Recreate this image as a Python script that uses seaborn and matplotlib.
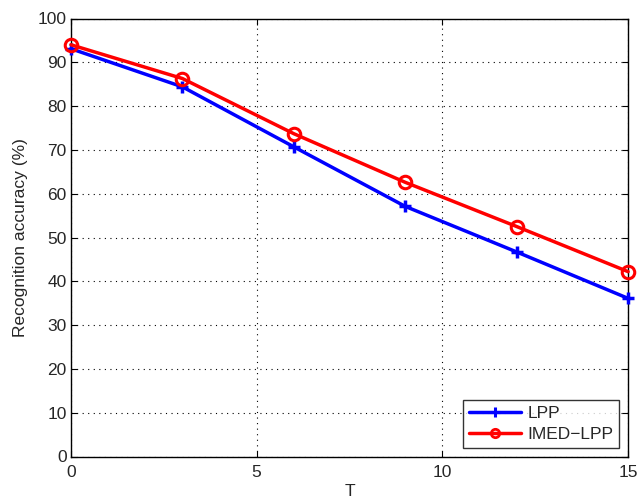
import matplotlib
matplotlib.use("Agg")
import matplotlib.pyplot as plt
from matplotlib.lines import Line2D
import seaborn as sns
import pandas as pd

# Noise level T and recognition accuracy (%) for each method
t_values = [0, 3, 6, 9, 12, 15]
lpp_acc = [93.1, 84.4, 70.7, 57.1, 46.7, 36.1]
imed_lpp_acc = [94.0, 86.3, 73.7, 62.6, 52.5, 42.2]
method_names = ["LPP", "IMED\u2212LPP"]
x_ticks = [0, 5, 10, 15]
y_ticks = list(range(0, 101, 10))

df = pd.DataFrame({
    "T": t_values * 2,
    "acc": lpp_acc + imed_lpp_acc,
    "method": [method_names[0]] * len(t_values) + [method_names[1]] * len(t_values),
})

sns.set_style("white")
plt.rcParams["font.family"] = ["Liberation Sans", "DejaVu Sans"]
FS = 12.5

fig = plt.figure(figsize=(6.39, 5.0), dpi=100)
ax = fig.add_axes([0.111, 0.087, 0.872, 0.876])

styles = {
    method_names[0]: dict(color="#0000ff", marker="+", markersize=9,
                          markeredgewidth=2.5, markeredgecolor="#0000ff"),
    method_names[1]: dict(color="#ff0000", marker="o", markersize=9,
                          markeredgewidth=2.2, markeredgecolor="#ff0000",
                          markerfacecolor="none"),
}
for name in method_names:
    sub = df[df["method"] == name]
    sns.lineplot(data=sub, x="T", y="acc", linewidth=2.5, legend=False,
                 ax=ax, clip_on=False, zorder=3, **styles[name])

ax.set_xlim(0, 15)
ax.set_ylim(0, 100)
ax.set_xticks(x_ticks)
ax.set_yticks(y_ticks)
ax.tick_params(direction="in", length=4, labelsize=FS, top=True, right=True,
               bottom=True, left=True, color="black", pad=3)
ax.tick_params(axis="x", pad=6)
ax.set_xlabel("T", fontsize=FS, labelpad=3)
ax.set_ylabel("Recognition accuracy (%)", fontsize=FS, labelpad=7)
ax.grid(True, linestyle=(0, (1, 4)), color="black", linewidth=0.8)
for s in ax.spines.values():
    s.set_visible(True)
    s.set_color("black")
    s.set_linewidth(1.0)

# legend entries use smaller markers than the plotted points
handles = [
    Line2D([], [], color="#0000ff", linewidth=2.5, marker="+", markersize=7,
           markeredgewidth=2.2),
    Line2D([], [], color="#ff0000", linewidth=2.5, marker="o", markersize=6,
           markeredgewidth=2.0, markerfacecolor="none"),
]
leg = ax.legend(handles, method_names, loc="lower right", fontsize=FS,
                frameon=True, fancybox=False, edgecolor="black",
                handlelength=3.0, handletextpad=0.35, borderpad=0.35,
                labelspacing=0.3, borderaxespad=0.5)
leg.get_frame().set_linewidth(1.0)

fig.savefig("out.png", dpi=100, facecolor="white")
